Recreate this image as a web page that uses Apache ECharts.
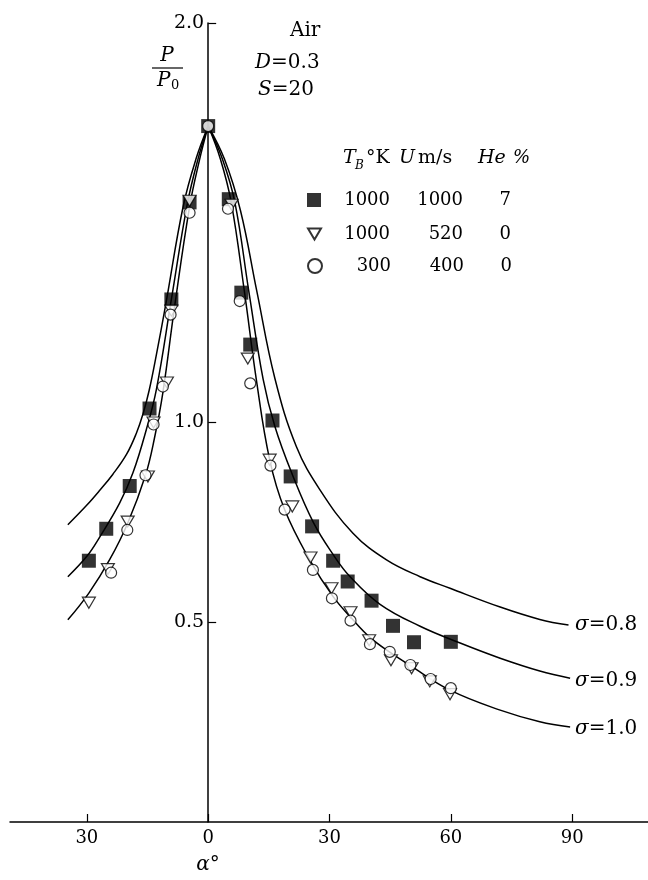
<!DOCTYPE html>
<html><head><meta charset="utf-8">
<script src="https://cdn.jsdelivr.net/npm/echarts@6/dist/echarts.min.js"></script>
<style>html,body{margin:0;padding:0;background:#fff}#c{width:648px;height:880px}</style>
</head><body><div id="c"></div>
<script>
// ---- axis ticks ----
const xTickValues = [-30, 0, 30, 60, 90];
const yTickValues = [0.5, 1.0, 2.0];
const xMin = -49, xMax = 109;

// ---- theoretical curves (alpha deg, P/P0) ----
const curve08Left = [[-34.7,0.744],[-30.1,0.792],[-26.9,0.829],[-23.6,0.870],[-20.2,0.920],[-17.8,0.972],[-16.1,1.022],[-14.6,1.08],[-12.8,1.17],[-10.5,1.295],[-6.2,1.54],[-3,1.66],[0,1.742]];
const curve08Right = [[0,1.742],[4,1.66],[8,1.53],[12,1.33],[16.5,1.11],[21.8,0.94],[27.6,0.832],[35.8,0.723],[44.1,0.656],[52.4,0.614],[59.8,0.585],[72.2,0.538],[82,0.507],[89.1,0.493]];
const curve09Left = [[-34.7,0.614],[-30,0.665],[-26.9,0.712],[-21.9,0.798],[-18.6,0.874],[-15.3,0.982],[-12.8,1.083],[-9.1,1.308],[-5.2,1.545],[-2.5,1.66],[0,1.742]];
const curve09Right = [[0,1.742],[3.5,1.66],[6.6,1.551],[10.1,1.325],[13.6,1.108],[16.5,0.99],[20.8,0.87],[26,0.75],[31,0.668],[35,0.615],[42.5,0.545],[52.4,0.490],[62.3,0.448],[72.2,0.410],[82,0.378],[89.5,0.360]];
const curve10Left = [[-34.7,0.506],[-29.5,0.573],[-24.4,0.656],[-19.9,0.748],[-15.5,0.868],[-13.3,0.96],[-11.2,1.075],[-8.3,1.29],[-4.6,1.54],[-2.2,1.655],[0,1.742]];
const curve10Right = [[0,1.742],[3,1.66],[5.7,1.551],[9,1.325],[11.9,1.108],[15.2,0.907],[18.9,0.782],[25.1,0.656],[30.9,0.564],[35.8,0.506],[40,0.462],[44.9,0.425],[49.9,0.392],[59.8,0.330],[72.2,0.280],[82,0.251],[89.5,0.238]];
const sigmaLabels = ['0.8', '0.9', '1.0'];

// ---- measured points ----
const squarePts = [[-29.5,0.654],[-25.2,0.734],[-19.4,0.841],[-14.5,1.035],[-9.1,1.308],[-4.6,1.551],[0,1.742],[5.1,1.559],[8.2,1.325],[10.4,1.195],[15.9,1.005],[20.4,0.865],[25.7,0.740],[30.9,0.654],[34.5,0.602],[40.4,0.554],[45.7,0.491],[50.9,0.450],[60,0.451]];
const trianglePts = [[-29.5,0.549],[-24.8,0.633],[-19.9,0.752],[-14.9,0.865],[-13.5,1.0],[-10.2,1.10],[-9.1,1.28],[-4.6,1.555],[5.8,1.545],[9.8,1.16],[15.2,0.907],[20.8,0.790],[25.3,0.662],[30.5,0.585],[35.2,0.525],[39.8,0.455],[45.2,0.405],[50.3,0.385],[54.8,0.352],[59.8,0.32]];
const circlePts = [[-24,0.624],[-20,0.731],[-15.5,0.868],[-13.5,0.995],[-11.2,1.09],[-9.3,1.27],[-4.6,1.525],[0,1.742],[4.9,1.535],[7.8,1.304],[10.4,1.098],[15.4,0.892],[18.9,0.782],[25.9,0.631],[30.6,0.560],[35.2,0.504],[40,0.445],[44.9,0.426],[50,0.393],[55,0.358],[60,0.335]];

// ---- legend table ----
const seriesNames = ['sq', 'tri', 'cir'];
const legendTemp = ['1000', '1000', '300'];
const legendSpeed = ['1000', '520', '400'];
const legendHe = ['7', '0', '0'];

const F = '"DejaVu Serif","Liberation Serif",serif';
const chart = echarts.init(document.getElementById('c'), null, {renderer: 'canvas'});

const gridLeft = 10, gridWidth = 639;
// shift the y axis so it sits at alpha = 0
const yAxisOffset = -(0 - xMin) / (xMax - xMin) * gridWidth;

function curve(data) {
  return {type: 'line', data: data, smooth: 0.4, showSymbol: false, silent: true,
    lineStyle: {color: '#000', width: 1.5}, z: 1};
}
const triPath = 'path://M0,0L20,0L10,17Z';

const legendRows = [191, 225, 257];
const legends = seriesNames.map((n, i) => ({
  data: [n], left: 307, top: legendRows[i], padding: 0, itemGap: 0,
  itemWidth: i === 1 ? 13 : 14, itemHeight: i === 1 ? 12 : 14, selectedMode: false,
  formatter: function (name) {
    const k = seriesNames.indexOf(name);
    return '{a|' + legendTemp[k] + '}{b|' + legendSpeed[k] + '}{c|' + legendHe[k] + '}';
  },
  textStyle: {fontFamily: F, fontSize: 18, color: '#000',
    rich: {a: {width: 64, align: 'right', fontFamily: F, fontSize: 18},
           b: {width: 73, align: 'right', fontFamily: F, fontSize: 18},
           c: {width: 48, align: 'right', fontFamily: F, fontSize: 18}}}
}));

function txt(x, y, text, opts) {
  return {type: 'text', x: x, y: y, silent: true,
    style: Object.assign({text: text, fill: '#000', font: '19px ' + F, textVerticalAlign: 'middle'}, opts || {})};
}
const richIt = {i: {fontStyle: 'italic', fontFamily: F, fontSize: 20}, n: {fontFamily: F, fontSize: 20}};

const option = {
  backgroundColor: '#fff',
  animation: false,
  grid: {left: gridLeft, width: gridWidth, top: 23, height: 799, containLabel: false, outerBoundsMode: 'none'},
  xAxis: {
    type: 'value', min: xMin, max: xMax,
    axisLine: {onZero: false, lineStyle: {color: '#000', width: 1.5}},
    axisTick: {show: true, inside: true, length: 8, customValues: xTickValues, lineStyle: {color: '#000', width: 1.2}},
    axisLabel: {customValues: xTickValues, formatter: v => String(Math.abs(v)), fontFamily: F, fontSize: 18, color: '#000', margin: 7},
    splitLine: {show: false}
  },
  yAxis: {
    type: 'value', min: 0, max: 2.0, position: 'left', offset: yAxisOffset,
    axisLine: {onZero: false, lineStyle: {color: '#000', width: 1.5}},
    axisTick: {show: true, inside: true, length: 8, customValues: yTickValues, lineStyle: {color: '#000', width: 1.2}},
    axisLabel: {customValues: yTickValues, formatter: v => v.toFixed(1), fontFamily: F, fontSize: 19, color: '#000', margin: 4},
    splitLine: {show: false}
  },
  legend: legends,
  series: [
    curve(curve08Left), curve(curve08Right),
    curve(curve09Left), curve(curve09Right),
    curve(curve10Left), curve(curve10Right),
    {name: seriesNames[0], type: 'scatter', data: squarePts, symbol: 'rect', symbolSize: 14,
      itemStyle: {color: '#000'}, z: 3},
    {name: seriesNames[1], type: 'scatter', data: trianglePts, symbol: triPath, symbolSize: [13, 11],
      itemStyle: {color: '#fff', borderColor: '#000', borderWidth: 1.2}, z: 4},
    {name: seriesNames[2], type: 'scatter', data: circlePts, symbol: 'circle', symbolSize: 11,
      itemStyle: {color: '#fff', borderColor: '#000', borderWidth: 1.2}, z: 5}
  ],
  graphic: [
    txt(290, 31, 'Air', {font: '20px ' + F}),
    txt(255, 63, '{i|D}{n|=0.3}', {rich: richIt}),
    txt(258, 90, '{i|S}{n|=20}', {rich: richIt}),
    txt(167, 56, 'P', {font: 'italic 20px ' + F, textAlign: 'center'}),
    {type: 'line', silent: true, shape: {x1: 152, y1: 68, x2: 183, y2: 68}, style: {stroke: '#000', lineWidth: 1.2}},
    txt(157, 81, 'P', {font: 'italic 20px ' + F}),
    txt(171, 86, '0', {font: '13px ' + F}),
    txt(343, 158, 'T', {font: 'italic 19px ' + F}),
    txt(355, 166, 'B', {font: 'italic 12px ' + F}),
    txt(366, 158, '°K', {font: '19px ' + F}),
    txt(399, 158, 'U', {font: 'italic 19px ' + F}),
    txt(418, 158, 'm/s', {font: '19px ' + F}),
    txt(478, 158, 'He', {font: 'italic 19px ' + F}),
    txt(513, 158, '%', {font: 'italic 18px ' + F}),
    txt(575, 625, '{i|σ}{n|=' + sigmaLabels[0] + '}', {rich: richIt}),
    txt(575, 681, '{i|σ}{n|=' + sigmaLabels[1] + '}', {rich: richIt}),
    txt(575, 729, '{i|σ}{n|=' + sigmaLabels[2] + '}', {rich: richIt}),
    txt(208, 865, '{i|α}{n|°}', {rich: richIt, textAlign: 'center'})
  ]
};
chart.setOption(option);
</script></body></html>
